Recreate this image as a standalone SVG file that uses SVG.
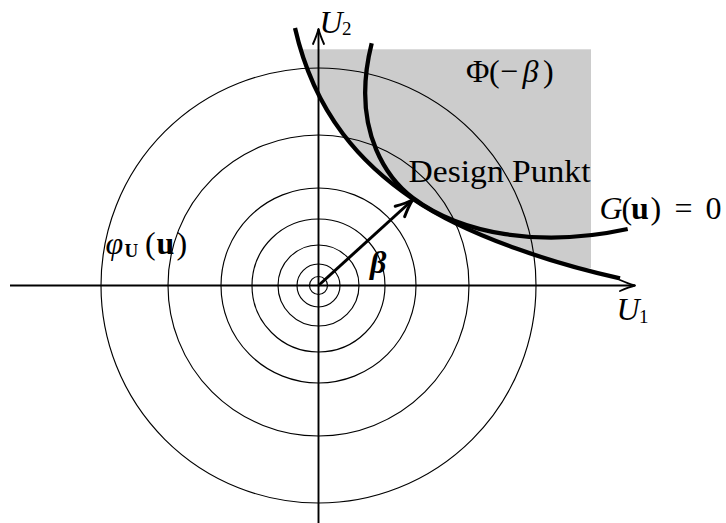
<svg xmlns="http://www.w3.org/2000/svg" width="726" height="523" viewBox="0 0 726 523">
<style>
.circ{fill:none;stroke:#000;stroke-width:1.15}
.ax{fill:none;stroke:#000;stroke-width:1.9}
.thick{fill:none;stroke:#000;stroke-width:4.3}
.vec{fill:none;stroke:#000;stroke-width:3}
.t{font-family:"Liberation Serif","Times New Roman",serif;font-size:32px;fill:#000}
.i{font-style:italic}
.b{font-weight:bold}
.s{font-size:19px}
</style>
<defs>
<marker id="ah" markerUnits="userSpaceOnUse" orient="auto" refX="0" refY="0" markerWidth="1" markerHeight="1" overflow="visible">
<path d="M -15,-5.5 Q -6,-1.5 0,0 Q -6,1.5 -15,5.5" fill="none" stroke="#000" stroke-width="1.9" stroke-linecap="round" stroke-linejoin="round"/>
</marker>
<marker id="ahb" markerUnits="userSpaceOnUse" orient="auto" refX="0" refY="0" markerWidth="1" markerHeight="1" overflow="visible">
<path d="M -17,-7 Q -7,-2 0,0 Q -7,2 -17,7" fill="none" stroke="#000" stroke-width="3" stroke-linecap="round" stroke-linejoin="round"/>
</marker>
<clipPath id="clipA">
<path d="M295,28 C315,115.8 363.3,165.3 413,199 C471,238.3 561.4,265.5 620,278.3 L726,300 L726,0 L295,0 Z"/>
</clipPath>
</defs>

<g id="shade">
<rect x="290" y="49.3" width="301" height="219" fill="#cccccc" clip-path="url(#clipA)"/>
</g>

<g id="density-contours">
<circle class="circ" cx="318.5" cy="285.5" r="9"/>
<circle class="circ" cx="318.5" cy="285.5" r="21.5"/>
<circle class="circ" cx="318.5" cy="285.5" r="40.5"/>
<circle class="circ" cx="318.5" cy="285.5" r="66.5"/>
<circle class="circ" cx="318.5" cy="285.5" r="97.5"/>
<circle class="circ" cx="318.5" cy="285.5" r="150.5"/>
<circle class="circ" cx="318.5" cy="285.5" r="217.5"/>
</g>

<g id="connectors">
<line class="ax" x1="10" y1="285.5" x2="635" y2="285.5" marker-end="url(#ah)"/>
<line class="ax" x1="318.5" y1="523" x2="318.5" y2="29" marker-end="url(#ah)"/>
<line class="vec" x1="318.5" y1="285.5" x2="412.5" y2="200" marker-end="url(#ahb)"/>
</g>

<g id="curve-tangent">
<path class="thick" d="M295,28 C315,115.8 363.3,165.3 413,199 C471,238.3 561.4,265.5 620,278.3"/>
</g>
<g id="curve-G">
<path class="thick" d="M371.7,43.3 C348.6,135.5 393,183 413,198 C461,234 539.8,248.1 627.7,229"/>
</g>

<g id="label-U2">
<text class="t i" x="319.5" y="33">U</text>
<text class="t s" x="342" y="35">2</text>
</g>
<g id="label-U1">
<text class="t i" x="616.5" y="320">U</text>
<text class="t s" x="639" y="323">1</text>
</g>
<g id="label-Phi">
<text class="t" y="82"><tspan x="466">Φ</tspan><tspan x="489">(</tspan><tspan x="500">−</tspan><tspan class="i" x="522.5">β</tspan><tspan x="543">)</tspan></text>
</g>
<g id="label-design">
<text class="t" x="408.5" y="181.7" textLength="182" lengthAdjust="spacingAndGlyphs">Design Punkt</text>
</g>
<g id="label-G">
<text class="t" y="219"><tspan class="i" x="599.5">G</tspan><tspan x="621.5">(</tspan><tspan class="b" x="631">u</tspan><tspan x="650.5">)</tspan><tspan x="674.5">=</tspan><tspan x="705.5">0</tspan></text>
</g>
<g id="label-phiU">
<text class="t" y="253.5"><tspan class="i" x="105.5">φ</tspan><tspan class="b s" x="124.5" y="257">U</tspan><tspan x="145" y="253.5">(</tspan><tspan class="b" x="156.5">u</tspan><tspan x="176.5">)</tspan></text>
</g>
<g id="label-beta">
<text class="t i b" x="370" y="273" font-size="34">β</text>
</g>
</svg>
